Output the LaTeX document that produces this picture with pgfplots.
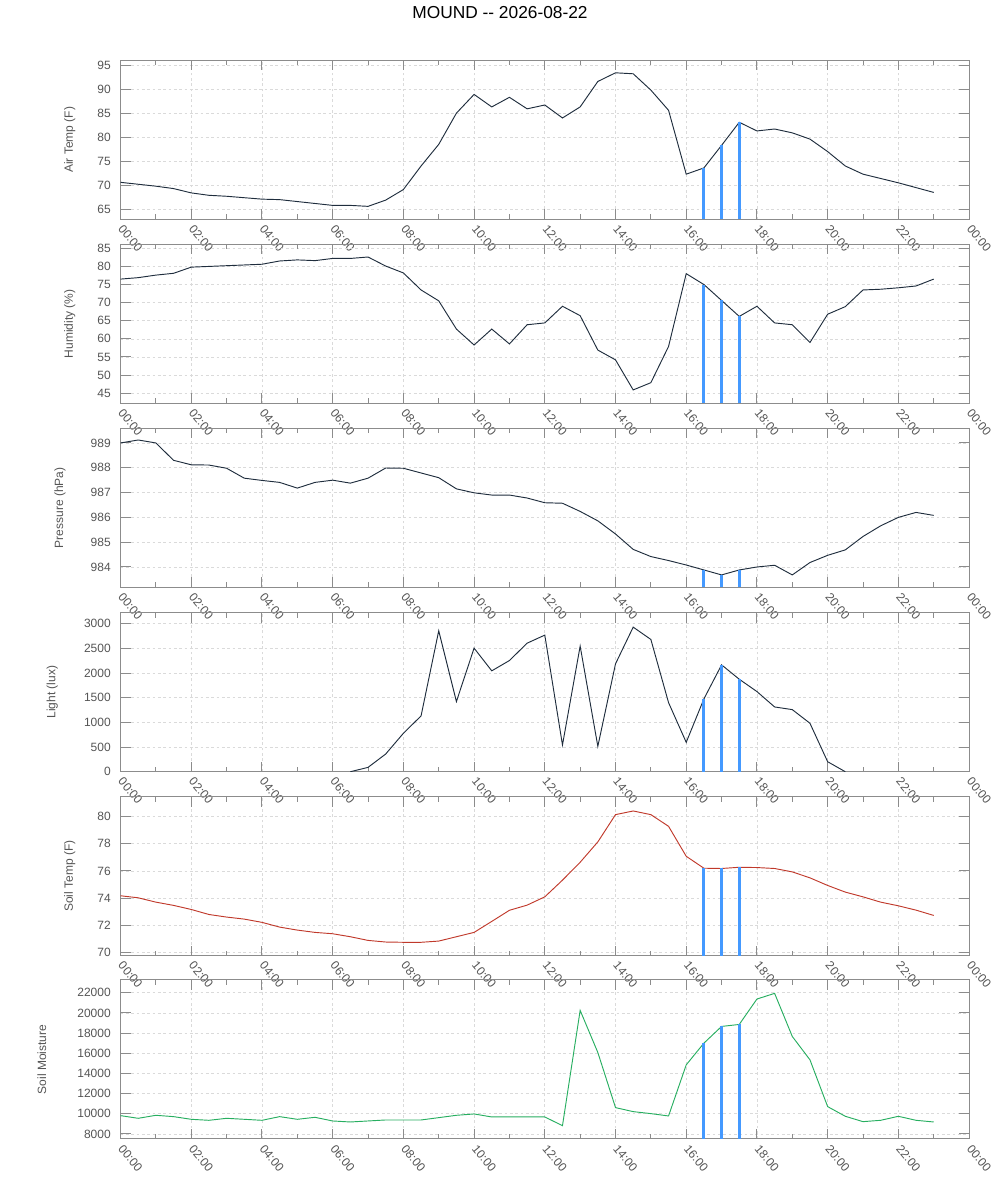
\documentclass[border=0pt]{standalone}
\usepackage{fontspec}
\setmainfont{Liberation Sans}
\usepackage{pgfplots}
\pgfplotsset{compat=1.18}
\definecolor{axgray}{HTML}{8C8C8C}
\definecolor{txtgray}{HTML}{555555}
\definecolor{gridgray}{HTML}{DADADA}
\definecolor{navy}{HTML}{1F2D3D}
\definecolor{soilred}{HTML}{C0392B}
\definecolor{soilgreen}{HTML}{27AE60}
\definecolor{barblue}{HTML}{4499FF}
\pgfplotsset{
  panel/.style={
    scale only axis, width=636.4pt, height=119.25pt, anchor=south west,
    xmin=0, xmax=24,
    xtick={0,2,...,24},
    xticklabels={00:00,02:00,04:00,06:00,08:00,10:00,12:00,14:00,16:00,18:00,20:00,22:00,00:00},
    minor xtick={1,3,...,23},
    major tick length=7.5pt, minor tick length=3.75pt,
    tick align=inside, tick pos=both,
    grid=major,
    major grid style={dash pattern=on 2pt off 2pt, color=gridgray, line width=0.5pt},
    axis line style={axgray, line width=0.75pt},
    every tick/.style={axgray, line width=0.75pt},
    tick label style={font=\fontsize{9}{10}\selectfont, text=txtgray},
    xticklabel style={yshift=-3pt, xshift=-2pt, rotate=-50, anchor=west},
    yticklabel style={xshift=-3.8pt},
    ylabel style={font=\fontsize{9}{10}\selectfont, text=txtgray},
    scaled ticks=false,
    /pgf/number format/assume math mode=true,
    /pgf/number format/1000 sep={},
    clip=true,
  },
  dataline/.style={line width=0.7pt, mark=none},
  bar/.style={barblue, line width=2.3pt, mark=none, forget plot},
}
\newcommand{\bars}[4]{%
  \addplot[bar] coordinates {(16.5,#1) (16.5,#2)};
  \addplot[bar] coordinates {(17,#1) (17,#3)};
  \addplot[bar] coordinates {(17.5,#1) (17.5,#4)};
}
\begin{document}
\begin{tikzpicture}
\path[use as bounding box] (0,0) rectangle (750pt,900pt);
\node[font=\fontsize{13}{15}\selectfont] at (375pt,890.5pt) {MOUND -{}- 2026-08-22};

% Air temp
\begin{axis}[panel, at={(90.4pt,735.5pt)}, ymin=62.9, ymax=96, ytick={65,70,...,95}, ylabel={Air Temp (F)}, ylabel shift=9.75pt]
\addplot[dataline, navy] coordinates {
(0,70.6) (0.5,70.2) (1,69.8) (1.5,69.3) (2,68.4) (2.5,67.9) (3,67.7) (3.5,67.4) (4,67.1) (4.5,67.0)
(5,66.6) (5.5,66.2) (6,65.8) (6.5,65.8) (7,65.6) (7.5,66.9) (8,69.1) (8.5,74.0) (9,78.5) (9.5,85.0)
(10,88.9) (10.5,86.3) (11,88.3) (11.5,85.9) (12,86.7) (12.5,84.0) (13,86.3) (13.5,91.6) (14,93.4) (14.5,93.2)
(15,89.8) (15.5,85.6) (16,72.3) (16.5,73.6) (17,78.3) (17.5,83.1) (18,81.3) (18.5,81.7) (19,80.9) (19.5,79.6)
(20,77.0) (20.5,74.0) (21,72.3) (21.5,71.4) (22,70.5) (22.5,69.5) (23,68.5)};
\bars{62.9}{73.6}{78.3}{83.1}
\end{axis}

% Humidity
\begin{axis}[panel, at={(90.4pt,597.5pt)}, ymin=42.2, ymax=86.1, ytick={45,50,...,85}, ylabel={Humidity (\%)}, ylabel shift=9.75pt]
\addplot[dataline, navy] coordinates {
(0,76.5) (0.5,76.9) (1,77.6) (1.5,78.1) (2,79.8) (2.5,80.0) (3,80.2) (3.5,80.4) (4,80.6) (4.5,81.5)
(5,81.8) (5.5,81.6) (6,82.2) (6.5,82.2) (7,82.6) (7.5,80.1) (8,78.2) (8.5,73.5) (9,70.5) (9.5,62.7)
(10,58.3) (10.5,62.7) (11,58.6) (11.5,63.9) (12,64.4) (12.5,69.0) (13,66.4) (13.5,56.9) (14,54.2) (14.5,45.9)
(15,47.9) (15.5,57.9) (16,78.0) (16.5,75.0) (17,70.6) (17.5,66.2) (18,69.0) (18.5,64.4) (19,63.9) (19.5,59.0)
(20,66.8) (20.5,68.9) (21,73.5) (21.5,73.7) (22,74.1) (22.5,74.6) (23,76.5)};
\bars{42.2}{75.0}{70.6}{66.2}
\end{axis}

% Pressure
\begin{axis}[panel, at={(90.4pt,459.5pt)}, ymin=983.18, ymax=989.59, ytick={984,985,...,989}, ylabel={Pressure (hPa)}, ylabel shift=12pt]
\addplot[dataline, navy] coordinates {
(0,989.0) (0.5,989.12) (1,989.0) (1.5,988.3) (2,988.12) (2.5,988.11) (3,987.98) (3.5,987.58) (4,987.49) (4.5,987.41)
(5,987.18) (5.5,987.41) (6,987.5) (6.5,987.38) (7,987.58) (7.5,987.99) (8,987.98) (8.5,987.79) (9,987.6) (9.5,987.15)
(10,986.99) (10.5,986.9) (11,986.9) (11.5,986.78) (12,986.59) (12.5,986.57) (13,986.24) (13.5,985.86) (14,985.33) (14.5,984.71)
(15,984.42) (15.5,984.26) (16,984.08) (16.5,983.88) (17,983.68) (17.5,983.88) (18,984.0) (18.5,984.07) (19,983.68) (19.5,984.18)
(20,984.47) (20.5,984.69) (21,985.23) (21.5,985.66) (22,986.0) (22.5,986.2) (23,986.08)};
\bars{983.18}{983.88}{983.68}{983.88}
\end{axis}

% Light
\begin{axis}[panel, at={(90.4pt,321.2pt)}, ymin=0, ymax=3223, ytick={0,500,...,3000}, ylabel={Light (lux)}, ylabel shift=12.75pt]
\addplot[dataline, navy] coordinates {
(6.5,0) (7,88) (7.5,359) (8,779) (8.5,1131) (9,2857) (9.5,1422)
(10,2505) (10.5,2045) (11,2254) (11.5,2606) (12,2769) (12.5,542) (13,2546) (13.5,515) (14,2187) (14.5,2931)
(15,2681) (15.5,1401) (16,596) (16.5,1476) (17,2166) (17.5,1875) (18,1625) (18.5,1313) (19,1259) (19.5,982)
(20,203) (20.5,0)};
\bars{0}{1476}{2166}{1875}
\end{axis}

% Soil temp
\begin{axis}[panel, at={(90.4pt,183.2pt)}, ymin=69.75, ymax=81.47, ytick={70,72,...,80}, ylabel={Soil Temp (F)}, ylabel shift=9.75pt]
\addplot[dataline, soilred] coordinates {
(0,74.17) (0.5,74.02) (1,73.70) (1.5,73.46) (2,73.16) (2.5,72.79) (3,72.60) (3.5,72.45) (4,72.21) (4.5,71.86)
(5,71.64) (5.5,71.47) (6,71.37) (6.5,71.15) (7,70.88) (7.5,70.76) (8,70.74) (8.5,70.74) (9,70.83) (9.5,71.15)
(10,71.47) (10.5,72.28) (11,73.1) (11.5,73.48) (12,74.09) (12.5,75.32) (13,76.64) (13.5,78.14) (14,80.15) (14.5,80.42)
(15,80.15) (15.5,79.29) (16,77.08) (16.5,76.2) (17,76.18) (17.5,76.27) (18,76.25) (18.5,76.18) (19,75.93) (19.5,75.49)
(20,74.93) (20.5,74.44) (21,74.09) (21.5,73.70) (22,73.43) (22.5,73.11) (23,72.72)};
\bars{69.75}{76.2}{76.18}{76.27}
\end{axis}

% Soil moisture
\begin{axis}[panel, at={(90.4pt,45.75pt)}, ymin=7504, ymax=23258, ytick={8000,10000,...,22000}, ylabel={Soil Moisture}, ylabel shift=16.5pt]
\addplot[dataline, soilgreen] coordinates {
(0,9819) (0.5,9554) (1,9852) (1.5,9720) (2,9455) (2.5,9356) (3,9554) (3.5,9455) (4,9356) (4.5,9720)
(5,9455) (5.5,9653) (6,9290) (6.5,9190) (7,9290) (7.5,9389) (8,9389) (8.5,9389) (9,9620) (9.5,9852)
(10,9985) (10.5,9687) (11,9687) (11.5,9687) (12,9687) (12.5,8826) (13,20246) (13.5,16075) (14,10614) (14.5,10216)
(15,10018) (15.5,9786) (16,14850) (16.5,17002) (17,18657) (17.5,18855) (18,21371) (18.5,21934) (19,17664) (19.5,15347)
(20,10713) (20.5,9753) (21,9223) (21.5,9356) (22,9753) (22.5,9356) (23,9190)};
\bars{7504}{17002}{18657}{18855}
\end{axis}
\end{tikzpicture}
\end{document}
